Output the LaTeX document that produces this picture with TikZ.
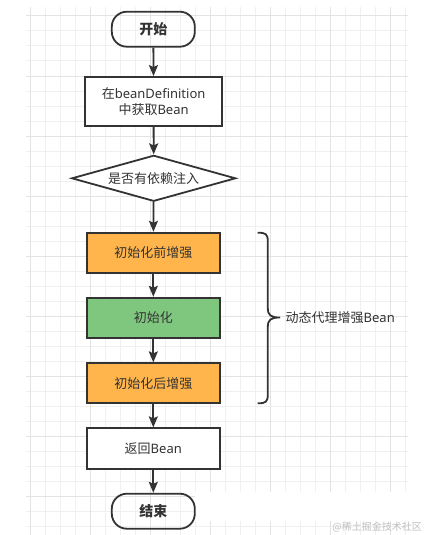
\documentclass[tikz,border=0pt]{standalone}
\usepackage{fontspec}
\setmainfont{Noto Sans CJK SC}
\newfontfamily\lat{Noto Sans}
\usetikzlibrary{shapes.geometric,arrows.meta}
\definecolor{ink}{HTML}{333333}
\definecolor{gridminor}{HTML}{F0F0F0}
\definecolor{gridmajor}{HTML}{E3E3E3}
\definecolor{orangefill}{HTML}{FFB54C}
\definecolor{greenfill}{HTML}{7FC77F}
\tikzset{
  gmin/.style={draw=gridminor, line width=1pt},
  gmaj/.style={draw=gridmajor, line width=1pt},
  base/.style={draw=ink, line width=1.8pt, text=ink, inner sep=0pt, align=center,
    font=\fontsize{13pt}{16pt}\selectfont},
  term/.style={base, rounded corners=15pt, minimum width=83pt, minimum height=35pt,
    font=\fontsize{14pt}{16pt}\selectfont\bfseries},
  procbox/.style={base, fill=white, minimum width=133pt, minimum height=40pt},
  decision/.style={base, diamond, aspect=3.56, minimum width=164pt, minimum height=46pt, fill=white},
  arr/.style={draw=ink, line width=1.8pt, -{Stealth[length=11pt,width=9pt,inset=2pt]}},
  bracestyle/.style={draw=ink, line width=1.8pt},
}
\begin{document}
\begin{tikzpicture}[x=1pt,y=-1pt]
\useasboundingbox (0,0) rectangle (425,535);
\fill[white] (0,0) rectangle (425,535);
% grid
\foreach \x in {30,45,...,405} \draw[gmin] (\x,7) -- (\x,535);
\foreach \y in {16,31,...,526} \draw[gmin] (26,\y) -- (408,\y);
\foreach \x in {30,90,...,390} \draw[gmaj] (\x,7) -- (\x,535);
\foreach \y in {16,76,...,496} \draw[gmaj] (26,\y) -- (408,\y);
\fill[white] (195,492) rectangle (409,521);
% nodes
\node[term] (start) at (153.3,29.2) {开始};
\node[procbox, minimum width=137pt, minimum height=49pt] (def) at (153.6,101.5)
  {在\lat{beanDefinition}\\中获取\lat{Bean}};
\node[decision] (dep) at (153.7,178.3) {是否有依赖注入};
\node[procbox, fill=orangefill] (pre) at (153.3,252.7) {初始化前增强};
\node[procbox, fill=greenfill] (init) at (153.3,317.7) {初始化};
\node[procbox, fill=orangefill] (post) at (153.3,383.3) {初始化后增强};
\node[procbox, minimum height=41pt] (ret) at (153.3,448.8) {返回\lat{Bean}};
\node[term] (end) at (153.3,511.2) {结束};
% arrows
\draw[arr] (start) -- (def);
\draw[arr] (def) -- (dep);
\draw[arr] (dep) -- (pre);
\draw[arr] (pre) -- (init);
\draw[arr] (init) -- (post);
\draw[arr] (post) -- (ret);
\draw[arr] (ret) -- (end);
% brace
\draw[bracestyle] (257.7,232.7) .. controls (266,232.7) and (267.8,234) .. (267.8,242)
  -- (267.8,308) .. controls (267.8,315.5) and (271,317.5) .. (280,317.5)
  .. controls (271,317.5) and (267.8,319.5) .. (267.8,327)
  -- (267.8,394) .. controls (267.8,402) and (266,403.3) .. (257.7,403.3);
\node[anchor=west, text=ink, inner sep=0pt, font=\fontsize{13pt}{16pt}\selectfont] (lbl) at (285.5,318)
  {动态代理增强\lat{Bean}};
% watermark
\node[anchor=east, text=black!25, inner sep=0pt, font=\fontsize{10pt}{12pt}\selectfont] (wm) at (422,527)
  {@稀土掘金技术社区};
\end{tikzpicture}
\end{document}
